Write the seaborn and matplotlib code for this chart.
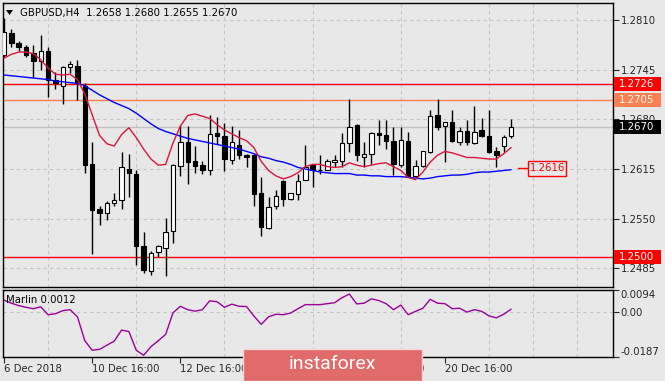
import numpy as np
import pandas as pd
import seaborn as sns
import matplotlib
matplotlib.use("Agg")
import matplotlib.pyplot as plt
from matplotlib.patches import Rectangle, Polygon
from matplotlib.transforms import blended_transform_factory

# GBPUSD H4 candles, 6 Dec 16:00 .. 24 Dec 04:00
opens = [1.2764, 1.2793, 1.2780, 1.2775, 1.2767, 1.2756, 1.2770, 1.2731, 1.2724, 1.2748,
         1.2750, 1.2724, 1.2622, 1.2563, 1.2557, 1.2570, 1.2575, 1.2615, 1.2609, 1.2514,
         1.2481, 1.2506, 1.2512, 1.2534, 1.2619, 1.2650, 1.2626, 1.2620, 1.2613, 1.2662,
         1.2658, 1.2627, 1.2646, 1.2633, 1.2633, 1.2584, 1.2538, 1.2566, 1.2599, 1.2576,
         1.2582, 1.2600, 1.2620, 1.2614, 1.2614, 1.2624, 1.2626, 1.2649, 1.2672, 1.2631,
         1.2634, 1.2662, 1.2659, 1.2652, 1.2620, 1.2652, 1.2606, 1.2619, 1.2637, 1.2686,
         1.2671, 1.2676, 1.2650, 1.2665, 1.2649, 1.2666, 1.2658, 1.2639, 1.2645, 1.2658]
highs = [1.2812, 1.2798, 1.2783, 1.2777, 1.2777, 1.2790, 1.2774, 1.2742, 1.2750, 1.2756,
         1.2758, 1.2727, 1.2650, 1.2567, 1.2573, 1.2583, 1.2637, 1.2635, 1.2614, 1.2533,
         1.2507, 1.2516, 1.2551, 1.2621, 1.2672, 1.2671, 1.2645, 1.2625, 1.2686, 1.2683,
         1.2675, 1.2671, 1.2666, 1.2634, 1.2634, 1.2604, 1.2578, 1.2587, 1.2600, 1.2584,
         1.2609, 1.2646, 1.2622, 1.2633, 1.2628, 1.2633, 1.2662, 1.2706, 1.2674, 1.2650,
         1.2663, 1.2679, 1.2679, 1.2670, 1.2670, 1.2663, 1.2627, 1.2639, 1.2692, 1.2706,
         1.2676, 1.2692, 1.2670, 1.2679, 1.2697, 1.2682, 1.2692, 1.2644, 1.2659, 1.2680]
lows = [1.2761, 1.2774, 1.2770, 1.2761, 1.2735, 1.2744, 1.2709, 1.2720, 1.2700, 1.2740,
        1.2705, 1.2610, 1.2504, 1.2541, 1.2548, 1.2567, 1.2563, 1.2578, 1.2489, 1.2479,
        1.2476, 1.2500, 1.2475, 1.2518, 1.2606, 1.2595, 1.2610, 1.2609, 1.2607, 1.2648,
        1.2612, 1.2621, 1.2628, 1.2617, 1.2566, 1.2527, 1.2537, 1.2562, 1.2566, 1.2575,
        1.2575, 1.2600, 1.2591, 1.2608, 1.2613, 1.2617, 1.2617, 1.2637, 1.2626, 1.2618,
        1.2622, 1.2646, 1.2641, 1.2607, 1.2617, 1.2604, 1.2604, 1.2618, 1.2636, 1.2666,
        1.2624, 1.2650, 1.2647, 1.2647, 1.2648, 1.2657, 1.2636, 1.2617, 1.2637, 1.2655]
closes = [1.2794, 1.2780, 1.2774, 1.2764, 1.2756, 1.2770, 1.2731, 1.2727, 1.2749, 1.2752,
          1.2727, 1.2620, 1.2561, 1.2557, 1.2570, 1.2574, 1.2617, 1.2610, 1.2514, 1.2483,
          1.2505, 1.2514, 1.2533, 1.2620, 1.2650, 1.2624, 1.2619, 1.2614, 1.2661, 1.2658,
          1.2628, 1.2650, 1.2633, 1.2631, 1.2582, 1.2539, 1.2565, 1.2580, 1.2576, 1.2583,
          1.2599, 1.2618, 1.2614, 1.2613, 1.2626, 1.2627, 1.2649, 1.2670, 1.2633, 1.2635,
          1.2662, 1.2659, 1.2652, 1.2622, 1.2653, 1.2606, 1.2619, 1.2638, 1.2684, 1.2670,
          1.2676, 1.2651, 1.2665, 1.2650, 1.2664, 1.2658, 1.2637, 1.2633, 1.2657, 1.2670]

# moving averages
ma_fast = [1.2760, 1.2765, 1.2768, 1.2768, 1.2766, 1.2758, 1.2747, 1.2739, 1.2738, 1.2739,
           1.2732, 1.2713, 1.2686, 1.2659, 1.2648, 1.2645, 1.2660, 1.2669, 1.2656, 1.2641,
           1.2628, 1.2620, 1.2621, 1.2649, 1.2671, 1.2685, 1.2687, 1.2684, 1.2681, 1.2673,
           1.2666, 1.2661, 1.2656, 1.2652, 1.2643, 1.2625, 1.2613, 1.2606, 1.2602, 1.2605,
           1.2610, 1.2618, 1.2621, 1.2621, 1.2618, 1.2617, 1.2618, 1.2623, 1.2620, 1.2618,
           1.2620, 1.2622, 1.2623, 1.2618, 1.2613, 1.2604, 1.2601, 1.2611, 1.2624, 1.2633,
           1.2638, 1.2636, 1.2633, 1.2630, 1.2630, 1.2629, 1.2628, 1.2628, 1.2635, 1.2643]
ma_slow = [1.2738, 1.2737, 1.2736, 1.2735, 1.2734, 1.2733, 1.2732, 1.2730, 1.2729, 1.2728,
           1.2727, 1.2724, 1.2718, 1.2712, 1.2707, 1.2702, 1.2698, 1.2694, 1.2688, 1.2681,
           1.2674, 1.2668, 1.2664, 1.2661, 1.2658, 1.2655, 1.2653, 1.2651, 1.2649, 1.2647,
           1.2645, 1.2643, 1.2641, 1.2638, 1.2635, 1.2631, 1.2629, 1.2626, 1.2624, 1.2621,
           1.2617, 1.2615, 1.2613, 1.2611, 1.2610, 1.2609, 1.2609, 1.2609, 1.2607, 1.2607,
           1.2606, 1.2606, 1.2605, 1.2605, 1.2605, 1.2604, 1.2603, 1.2602, 1.2603, 1.2605,
           1.2606, 1.2607, 1.2607, 1.2608, 1.2610, 1.2611, 1.2611, 1.2612, 1.2613, 1.2614]

# Marlin oscillator (lower window)
marlin = [0.0050, 0.0037, 0.0027, 0.0020, 0.0014, 0.0022, -0.0011, -0.0007, 0.0006, 0.0010,
          -0.0020, -0.0119, -0.0159, -0.0155, -0.0138, -0.0121, -0.0075, -0.0081, -0.0159, -0.0180,
          -0.0144, -0.0119, -0.0093, -0.0003, 0.0024, 0.0010, 0.0004, 0.0010, 0.0047, 0.0043,
          0.0020, 0.0033, 0.0024, 0.0023, -0.0016, -0.0051, -0.0020, -0.0009, -0.0011, -0.0004,
          0.0014, 0.0031, 0.0031, 0.0031, 0.0035, 0.0039, 0.0060, 0.0075, 0.0034, 0.0037,
          0.0055, 0.0048, 0.0035, 0.0010, 0.0029, -0.0011, 0.0003, 0.0016, 0.0053, 0.0037,
          0.0035, 0.0014, 0.0016, 0.0000, 0.0010, 0.0003, -0.0016, -0.0024, -0.0009, 0.0012]

price_ticks = [1.2810, 1.2745, 1.2680, 1.2615, 1.2550, 1.2485]
marlin_ticks = [0.0094, 0.0, -0.0187]
date_labels = ["6 Dec 2018", "10 Dec 16:00", "12 Dec 16:00", "14 Dec 16:00",
               "18 Dec 16:00", "20 Dec 16:00"]
date_bars = [0, 12, 24, 36, 48, 60]

level_prices = [1.2726, 1.2705, 1.2500]
level_colors = ["#ff0000", "#ff7f50", "#ff0000"]
last_price = 1.2670
ma_mark = 1.2616

BG = "#e8e8e8"
GRID = "#c4c4c4"
W, H = 665, 381

sns.set_style("ticks", {"axes.facecolor": BG, "figure.facecolor": BG,
                        "axes.edgecolor": "black"})
plt.rcParams["font.family"] = ["DejaVu Sans"]
plt.rcParams["font.size"] = 7.3

df = pd.DataFrame({"bar": np.arange(len(opens)), "open": opens, "high": highs,
                   "low": lows, "close": closes, "fast": ma_fast, "slow": ma_slow,
                   "marlin": marlin})
up = df["close"] >= df["open"]

fig = plt.figure(figsize=(W / 100, H / 100), dpi=100)
ax = fig.add_axes([2.5 / W, 1 - 287 / H, 610 / W, (287 - 2.7) / H])
axm = fig.add_axes([2.5 / W, 1 - 357 / H, 610 / W, (357 - 289.5) / H], sharex=ax)

for a in (ax, axm):
    for s in a.spines.values():
        s.set_linewidth(1.0)
        s.set_color("black")

# grid
ax.set_xlim(-0.2, 82.8)
ax.set_ylim(1.24605, 1.28326)
ax.set_xticks(np.arange(0, 83, 6), minor=True)
ax.grid(which="minor", axis="x", color=GRID, linestyle=(0, (3, 3)), linewidth=0.8)
ax.grid(which="major", axis="y", color=GRID, linestyle=(0, (3, 3)), linewidth=0.8)
ax.set_axisbelow(True)

# level lines
for p, c in zip(level_prices, level_colors):
    ax.axhline(p, color=c, linewidth=1.0, zorder=1)
ax.axhline(last_price, color="#c0c0c0", linewidth=1.0, zorder=1)

# candles
ax.vlines(df["bar"], df["low"], df["high"], color="black", linewidth=1.0, zorder=3)
body_lo = np.minimum(df["open"], df["close"])
body_h = np.abs(df["close"] - df["open"])
ax.bar(df["bar"][up], body_h[up], bottom=body_lo[up], width=0.6, color="white",
       edgecolor="black", linewidth=0.8, zorder=4)
ax.bar(df["bar"][~up], body_h[~up], bottom=body_lo[~up], width=0.6, color="black",
       edgecolor="black", linewidth=0.8, zorder=4)

# moving averages
sns.lineplot(data=df, x="bar", y="slow", color="#0000ff", linewidth=1.0, ax=ax, zorder=5)
sns.lineplot(data=df, x="bar", y="fast", color="#dc143c", linewidth=1.0, ax=ax, zorder=5)

# price axis on the right
ax.yaxis.tick_right()
ax.set_yticks(price_ticks)
ax.set_yticklabels([f"{v:.4f}" for v in price_ticks])
ax.tick_params(axis="y", which="major", direction="out", length=4, width=0.8,
               pad=2, labelsize=7.3, right=True, left=False)
ax.tick_params(axis="x", which="both", length=0, labelbottom=False)
ax.set_xlabel("")
ax.set_ylabel("")

# boxed price labels on the axis
trans = blended_transform_factory(fig.transFigure, ax.transData)
box_h = 14 / 7640
for p, c in list(zip(level_prices, level_colors)) + [(last_price, "black")]:
    ax.add_patch(Rectangle((613.5 / W, p - box_h / 2), 47 / W, box_h, transform=trans,
                           facecolor=c, edgecolor="none", clip_on=False, zorder=10))
    ax.text(619 / W, p, f"{p:.4f}", transform=trans, color="white", ha="left",
            va="center", fontsize=7.3, zorder=11, clip_on=False)

# marker of the slow average
ax.plot([69.9, 71.3], [ma_mark, ma_mark], color="#ff0000", linewidth=1.0, zorder=6)
ax.add_patch(Rectangle((71.3, ma_mark - 15 / 7640 / 2), 5.2, 15 / 7640,
                       facecolor=BG, edgecolor="#ff0000", linewidth=1.0, zorder=6))
ax.text(73.9, ma_mark, f"{ma_mark:.4f}", color="#ff0000", ha="center", va="center",
        fontsize=7.3, zorder=7)

# title
fig.patches.append(Polygon([(6 / W, 1 - 10 / H), (13 / W, 1 - 10 / H), (9.5 / W, 1 - 15 / H)],
                           closed=True, transform=fig.transFigure, facecolor="black",
                           edgecolor="none"))
fig.text(20 / W, 1 - 13 / H, "GBPUSD,H4  %.4f %.4f %.4f %.4f" % (opens[-1], highs[-1],
         lows[-1], closes[-1]), ha="left", va="center", fontsize=7.3, color="black")

# Marlin window
sns.lineplot(data=df, x="bar", y="marlin", color="#9b009b", linewidth=1.0, ax=axm)
axm.set_ylim(-0.0187, 0.0094)
axm.set_xlim(-0.2, 82.8)
axm.set_xticks(np.arange(0, 83, 6), minor=True)
axm.set_xticks(date_bars)
axm.set_xticklabels(date_labels)
axm.grid(which="minor", axis="x", color=GRID, linestyle=(0, (3, 3)), linewidth=0.8)
axm.axhline(0, color=GRID, linestyle=(0, (3, 3)), linewidth=0.8, zorder=0)
axm.set_axisbelow(True)
axm.yaxis.tick_right()
axm.set_yticks(marlin_ticks)
ylabs = axm.set_yticklabels(["0.0094", "0.00", "-0.0187"])
ylabs[0].set_va("top")
ylabs[2].set_va("bottom")
axm.tick_params(axis="y", direction="out", length=4, width=0.8, pad=2, labelsize=7.3,
                right=True, left=False)
axm.tick_params(axis="x", which="major", direction="out", length=4, width=0.8, pad=1,
                labelsize=7.3)
axm.tick_params(axis="x", which="minor", length=0)
for lab in axm.get_xticklabels():
    lab.set_ha("left")
axm.set_xlabel("")
axm.set_ylabel("")
fig.text(6 / W, 1 - 300 / H, "Marlin %.4f" % marlin[-1], ha="left", va="center",
         fontsize=7.3, color="black")

# watermark
fig.patches.append(Rectangle((243 / W, 0), 179 / W, 32 / H, transform=fig.transFigure,
                             facecolor="#e16b6b", edgecolor="#f3d6d6", linewidth=1.0,
                             zorder=20))
fig.text(332.5 / W, 1 - 364 / H, "instaforex", ha="center", va="center", color="white",
         fontsize=14, family=["Roboto", "DejaVu Sans"], zorder=21)

fig.savefig("out.png", dpi=100, facecolor=BG)
